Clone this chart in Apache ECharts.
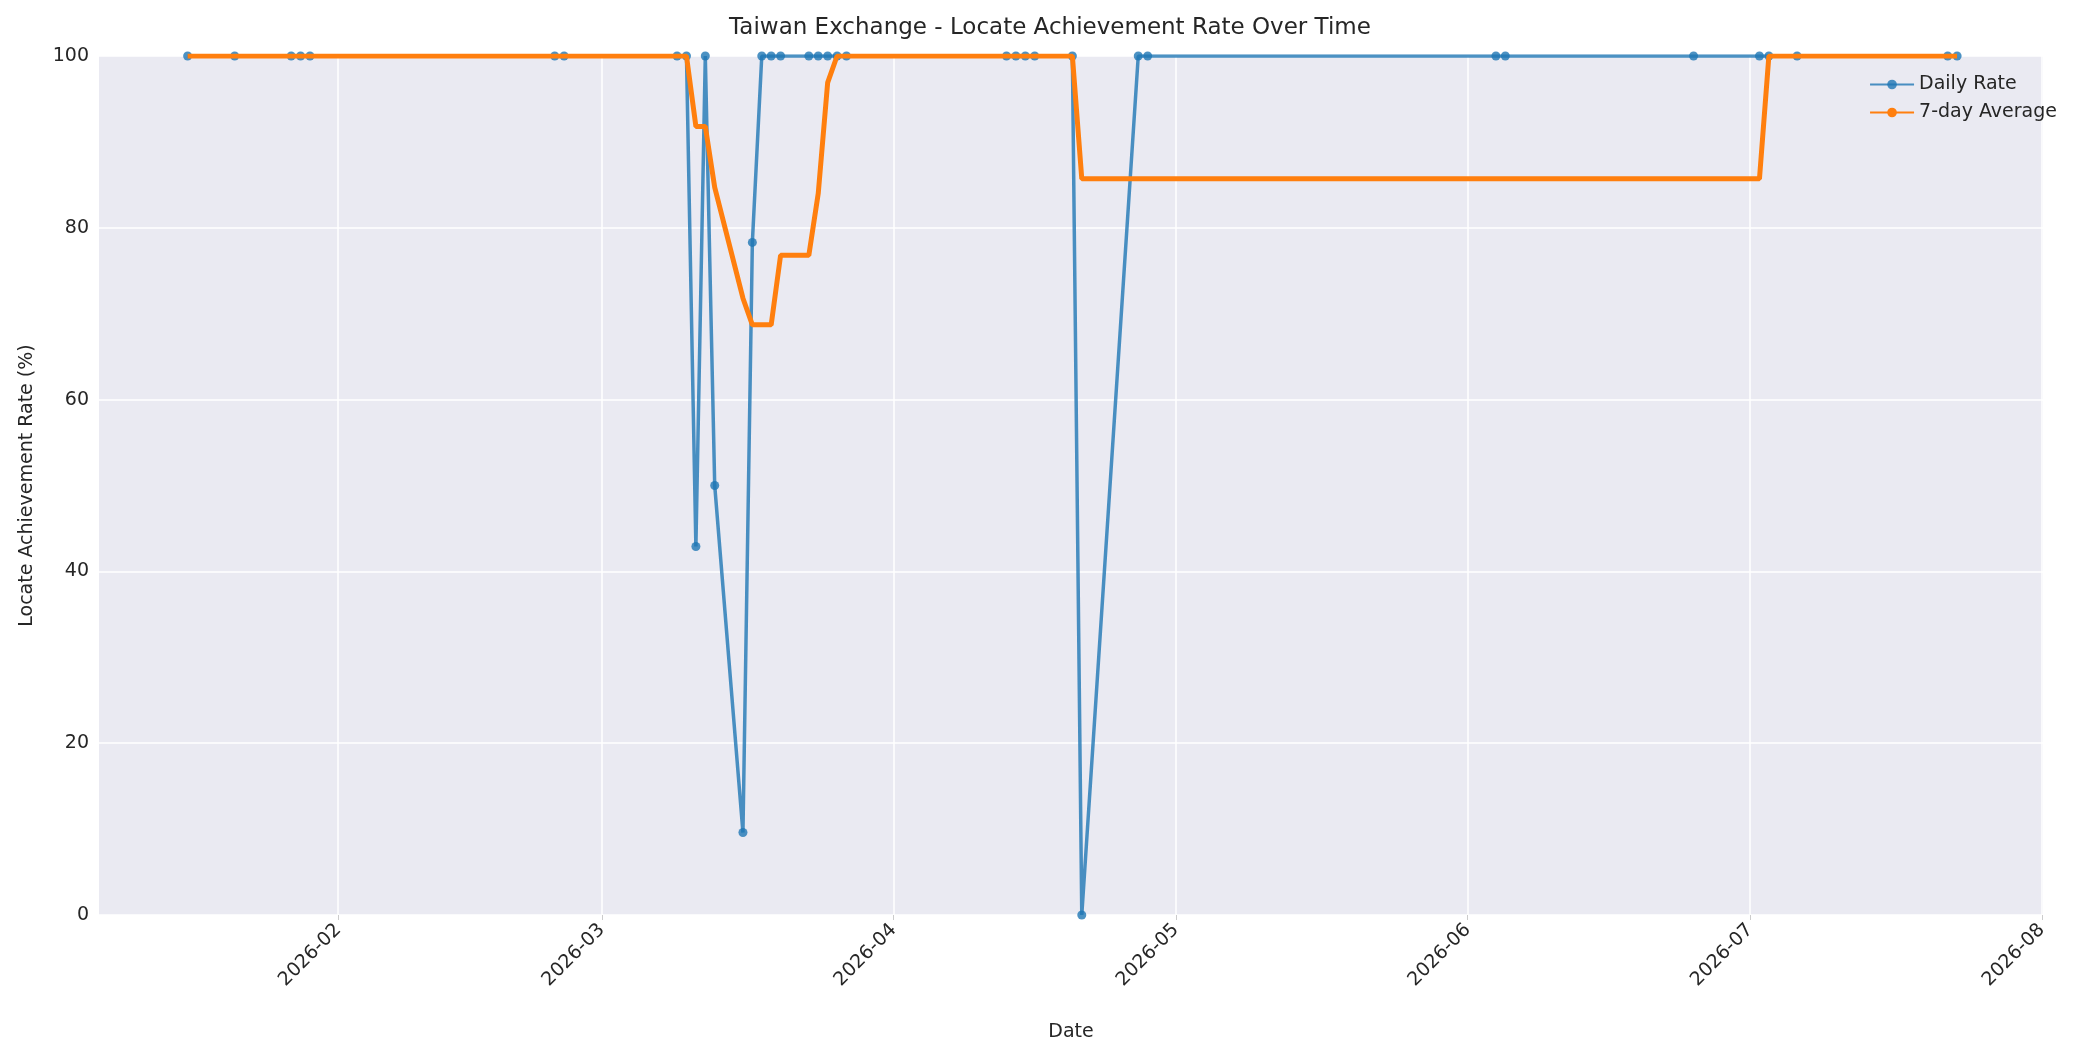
<!DOCTYPE html>
<html><head><meta charset="utf-8">
<script src="https://cdn.jsdelivr.net/npm/echarts@6/dist/echarts.min.js"></script>
<style>html,body{margin:0;padding:0;background:#fff}#c{width:2100px;height:1050px}</style>
</head><body><div id="c"></div>
<script>
const dates = ['2026-01-16','2026-01-21','2026-01-27','2026-01-28','2026-01-29','2026-02-24','2026-02-25','2026-03-09','2026-03-10','2026-03-11','2026-03-12','2026-03-13','2026-03-16','2026-03-17','2026-03-18','2026-03-19','2026-03-20','2026-03-23','2026-03-24','2026-03-25','2026-03-26','2026-03-27','2026-04-13','2026-04-14','2026-04-15','2026-04-16','2026-04-20','2026-04-21','2026-04-27','2026-04-28','2026-06-04','2026-06-05','2026-06-25','2026-07-02','2026-07-03','2026-07-06','2026-07-22','2026-07-23'];
const dailyRate = [100,100,100,100,100,100,100,100,100,42.9,100,50,9.6,78.3,100,100,100,100,100,100,100,100,100,100,100,100,100,0,100,100,100,100,100,100,100,100,100,100];
const avg7 = [100,100,100,100,100,100,100,100,100,91.8,91.8,84.7,71.8,68.7,68.7,68.7,76.8,76.8,84.0,96.9,100,100,100,100,100,100,100,85.7,85.7,85.7,85.7,85.7,85.7,85.7,100,100,100,100];
const monthTicks = ['2026-02-01','2026-03-01','2026-04-01','2026-05-01','2026-06-01','2026-07-01','2026-08-01'];
const yTicks = [0,20,40,60,80,100];

const ts = d => Date.parse(d + 'T00:00:00Z');
const tickVals = monthTicks.map(ts);
const font = 'DejaVu Sans';
const chart = echarts.init(document.getElementById('c'));
chart.setOption({
  backgroundColor: '#fff',
  animation: false,
  title: {text: 'Taiwan Exchange - Locate Achievement Rate Over Time', left: 'center', top: 12,
    textStyle: {fontFamily: font, fontSize: 23, fontWeight: 'normal', color: '#262626'}},
  legend: {right: 38, top: 70, orient: 'vertical', itemGap: 9, itemWidth: 44, itemHeight: 12,
    textStyle: {fontFamily: font, fontSize: 19, color: '#262626'},
    data: [{name: 'Daily Rate'}, {name: '7-day Average'}]},
  grid: {left: 99, right: 57, top: 56, bottom: 135, backgroundColor: '#EAEAF2', show: true, borderWidth: 0},
  xAxis: {type: 'value', min: Date.UTC(2026,0,6,14), max: Date.UTC(2026,7,1,3),
    name: 'Date', nameLocation: 'middle', nameGap: 108,
    nameTextStyle: {fontFamily: font, fontSize: 19, color: '#262626'},
    axisLine: {show: false}, axisTick: {show: true, customValues: tickVals, length: 5, lineStyle: {color: '#ccc'}},
    splitLine: {show: true, lineStyle: {color: '#fff', width: 1.5}},
    axisLabel: {customValues: tickVals, rotate: 45, margin: 12, fontFamily: font, fontSize: 19, color: '#262626',
      formatter: v => { const d = new Date(v); return d.getUTCFullYear() + '-' + String(d.getUTCMonth()+1).padStart(2,'0'); }}},
  yAxis: {type: 'value', min: 0, max: 100, interval: 20,
    name: 'Locate Achievement Rate (%)', nameLocation: 'middle', nameGap: 62,
    nameTextStyle: {fontFamily: font, fontSize: 19, color: '#262626'},
    axisLine: {show: false}, axisTick: {show: false},
    splitLine: {lineStyle: {color: '#fff', width: 1.5}},
    axisLabel: {fontFamily: font, fontSize: 19, color: '#262626', margin: 10}},
  series: [
    {name: 'Daily Rate', type: 'line', data: dates.map((d,i) => [ts(d), dailyRate[i]]),
      symbol: 'circle', symbolSize: 9, itemStyle: {color: 'rgba(31,119,180,0.8)'},
      lineStyle: {color: 'rgba(31,119,180,0.8)', width: 3.5}, z: 2},
    {name: '7-day Average', type: 'line', data: dates.map((d,i) => [ts(d), avg7[i]]),
      symbol: 'none', itemStyle: {color: '#FF7F0E'}, lineStyle: {color: '#FF7F0E', width: 5}, z: 3}
  ]
});
</script></body></html>
